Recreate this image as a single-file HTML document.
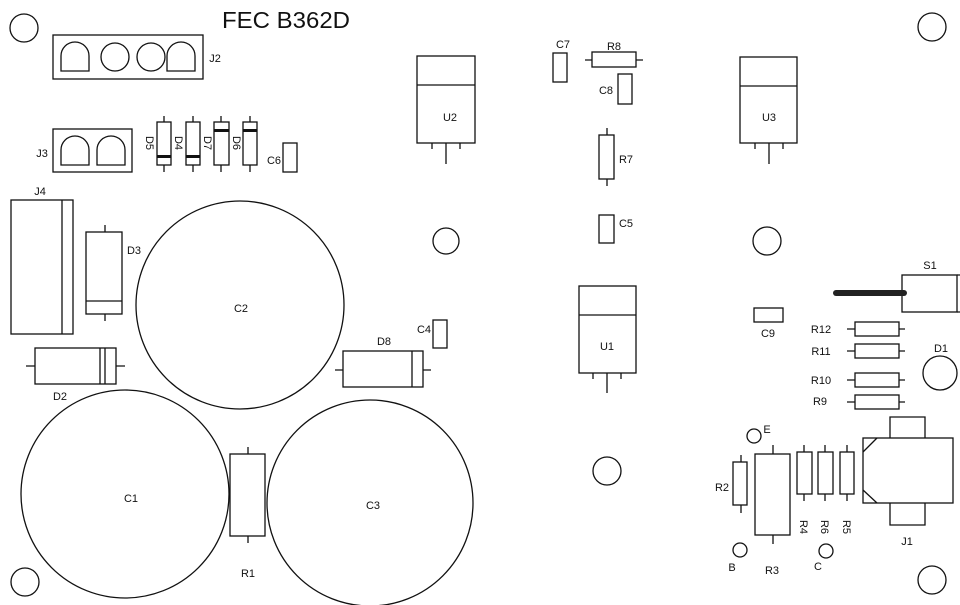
<!DOCTYPE html>
<html><head><meta charset="utf-8"><style>
html,body{margin:0;padding:0;background:#fff}
svg{display:block}
text{font-family:"Liberation Sans",sans-serif;font-size:11px;fill:#111;text-anchor:middle}
</style></head><body>
<svg width="960" height="605" viewBox="0 0 960 605" xmlns="http://www.w3.org/2000/svg">
<g fill="none" stroke="#111" stroke-width="1.3">
<!-- holes -->
<circle cx="24" cy="28" r="14"/><circle cx="932" cy="27" r="14"/>
<circle cx="446" cy="241" r="13"/><circle cx="767" cy="241" r="14"/>
<circle cx="607" cy="471" r="14"/><circle cx="25" cy="582" r="14"/>
<circle cx="932" cy="580" r="14"/>
<!-- J2 -->
<rect x="53" y="35" width="150" height="44"/>
<path d="M61 71 V56 A14 14 0 0 1 89 56 V71 Z"/>
<circle cx="115" cy="57" r="14"/><circle cx="151" cy="57" r="14"/>
<path d="M167 71 V56 A14 14 0 0 1 195 56 V71 Z"/>
<!-- J3 -->
<rect x="53" y="129" width="79" height="43"/>
<path d="M61 165 V150 A14 14 0 0 1 89 150 V165 Z"/>
<path d="M97 165 V150 A14 14 0 0 1 125 150 V165 Z"/>
<!-- D5 D4 D7 D6 -->
<rect x="157" y="122" width="14" height="43"/><path d="M164 116V122M164 165V172"/>
<rect x="186" y="122" width="14" height="43"/><path d="M193 116V122M193 165V172"/>
<rect x="214" y="122" width="15" height="43"/><path d="M221 116V122M221 165V172"/>
<rect x="243" y="122" width="14" height="43"/><path d="M250 116V122M250 165V172"/>
<!-- C6 -->
<rect x="283" y="143" width="14" height="29"/>
<!-- J4 -->
<rect x="11" y="200" width="62" height="134"/><path d="M62 200V334"/>
<!-- D3 -->
<rect x="86" y="232" width="36" height="82"/><path d="M86 301H122M105 225V232M105 314V321"/>
<!-- C2 -->
<circle cx="240" cy="305" r="104"/>
<!-- D2 -->
<rect x="35" y="348" width="81" height="36"/><path d="M100 348V384M105 348V384M26 366H35M116 366H125"/>
<!-- D8 -->
<rect x="343" y="351" width="80" height="36"/><path d="M412 351V387M335 370H343M423 370H431"/>
<!-- C4 -->
<rect x="433" y="320" width="14" height="28"/>
<!-- C1, C3 -->
<circle cx="125" cy="494" r="104"/>
<circle cx="370" cy="503" r="103"/>
<!-- R1 -->
<rect x="230" y="454" width="35" height="82"/><path d="M248 447V454M248 536V543"/>
<!-- U2 -->
<rect x="417" y="56" width="58" height="87"/><path d="M417 85H475M432 143V149M460 143V149M446 143V164"/>
<!-- C7 R8 C8 R7 C5 -->
<rect x="553" y="53" width="14" height="29"/>
<rect x="592" y="52" width="44" height="15"/><path d="M585 60H592M636 60H643"/>
<rect x="618" y="74" width="14" height="30"/>
<rect x="599" y="135" width="15" height="44"/><path d="M607 128V135M607 179V186"/>
<rect x="599" y="215" width="15" height="28"/>
<!-- U1 -->
<rect x="579" y="286" width="57" height="87"/><path d="M579 315H636M593 373V379M621 373V379M607 373V393"/>
<!-- U3 -->
<rect x="740" y="57" width="57" height="86"/><path d="M740 86H797M755 143V149M783 143V149M769 143V164"/>
<!-- S1 -->
<rect x="902" y="275" width="55" height="37"/><path d="M957 275H962M957 312H962"/>
<!-- C9 -->
<rect x="754" y="308" width="29" height="14"/>
<!-- R12 R11 R10 R9 -->
<rect x="855" y="322" width="44" height="14"/><path d="M847 329H855M899 329H905"/>
<rect x="855" y="344" width="44" height="14"/><path d="M847 351H855M899 351H905"/>
<rect x="855" y="373" width="44" height="14"/><path d="M847 380H855M899 380H905"/>
<rect x="855" y="395" width="44" height="14"/><path d="M847 402H855M899 402H905"/>
<!-- D1 -->
<circle cx="940" cy="373" r="17"/>
<!-- E B C pads -->
<circle cx="754" cy="436" r="7"/><circle cx="740" cy="550" r="7"/><circle cx="826" cy="551" r="7"/>
<!-- R2 R3 -->
<rect x="733" y="462" width="14" height="43"/><path d="M741 455V462M741 505V513"/>
<rect x="755" y="454" width="35" height="81"/><path d="M773 445V454M773 535V544"/>
<!-- R4 R6 R5 -->
<rect x="797" y="452" width="15" height="42"/><path d="M804 445V452M804 494V501"/>
<rect x="818" y="452" width="15" height="42"/><path d="M825 445V452M825 494V501"/>
<rect x="840" y="452" width="14" height="42"/><path d="M847 445V452M847 494V501"/>
<!-- J1 -->
<rect x="863" y="438" width="90" height="65"/>
<path d="M890 438V417H925V438M890 503V525H925V503M863 452L877 438M863 490L877 503"/>
</g>
<!-- filled bands -->
<g fill="#111">
<rect x="157" y="155" width="14" height="3"/>
<rect x="186" y="155" width="14" height="3"/>
<rect x="214" y="129" width="15" height="3"/>
<rect x="243" y="129" width="14" height="3"/>
</g>
<line x1="836" y1="293" x2="904" y2="293" stroke="#222" stroke-width="6" stroke-linecap="round"/>
<!-- labels -->
<text x="286" y="28" style="font-size:23px" textLength="128" lengthAdjust="spacingAndGlyphs">FEC B362D</text>
<text x="215" y="62">J2</text>
<text x="42" y="157">J3</text>
<text x="40" y="195">J4</text>
<text x="134" y="254">D3</text>
<text x="241" y="312">C2</text>
<text x="60" y="400">D2</text>
<text x="384" y="345">D8</text>
<text x="424" y="333">C4</text>
<text x="131" y="502">C1</text>
<text x="373" y="509">C3</text>
<text x="248" y="577">R1</text>
<text x="274" y="164">C6</text>
<text x="450" y="121">U2</text>
<text x="563" y="48">C7</text>
<text x="614" y="50">R8</text>
<text x="606" y="94">C8</text>
<text x="626" y="163">R7</text>
<text x="626" y="227">C5</text>
<text x="607" y="350">U1</text>
<text x="769" y="121">U3</text>
<text x="930" y="269">S1</text>
<text x="768" y="337">C9</text>
<text x="821" y="333">R12</text>
<text x="821" y="355">R11</text>
<text x="821" y="384">R10</text>
<text x="820" y="405">R9</text>
<text x="941" y="352">D1</text>
<text x="767" y="433">E</text>
<text x="722" y="491">R2</text>
<text x="772" y="574">R3</text>
<text x="732" y="571">B</text>
<text x="818" y="570">C</text>
<text x="907" y="545">J1</text>
<g>
<text transform="translate(146,143) rotate(90)">D5</text>
<text transform="translate(175,143) rotate(90)">D4</text>
<text transform="translate(204,143) rotate(90)">D7</text>
<text transform="translate(233,143) rotate(90)">D6</text>
<text transform="translate(800,527) rotate(90)">R4</text>
<text transform="translate(821,527) rotate(90)">R6</text>
<text transform="translate(843,527) rotate(90)">R5</text>
</g>
</svg>
</body></html>
